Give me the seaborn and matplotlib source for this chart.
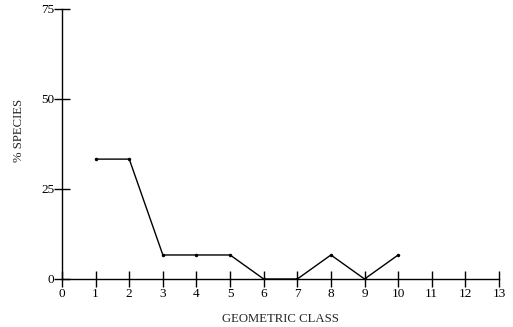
import matplotlib
matplotlib.use("Agg")
import matplotlib.pyplot as plt
import seaborn as sns
import pandas as pd

classes = [1, 2, 3, 4, 5, 6, 7, 8, 9, 10]
pct_species = [33.3, 33.3, 6.67, 6.67, 6.67, 0, 0, 6.67, 0, 6.67]
x_ticks = list(range(0, 14))
y_ticks = [0, 25, 50, 75]

sns.set_style("white")
plt.rcParams['font.family'] = ['Liberation Serif', 'DejaVu Serif']

df = pd.DataFrame({"cls": classes, "pct": pct_species})

fig = plt.figure(figsize=(5.13, 3.27), dpi=100)
ax = fig.add_axes([0.1209, 0.1468, 0.8518, 0.8257])
sns.lineplot(data=df, x="cls", y="pct", ax=ax, color="black", linewidth=1.0,
             marker="o", markersize=2.5, markeredgewidth=0, markerfacecolor="black")

ax.set_xlim(0, 13)
ax.set_ylim(0, 75)
ax.set_xticks(x_ticks)
ax.set_yticks(y_ticks)
for s in ["top", "right"]:
    ax.spines[s].set_visible(False)
for s in ["left", "bottom"]:
    ax.spines[s].set_color("black")
    ax.spines[s].set_linewidth(1.0)
ax.tick_params(axis="both", direction="inout", length=11, width=1.0, colors="black",
               labelsize=9.5, bottom=True, left=True)
ax.tick_params(axis="x", pad=1)
ax.tick_params(axis="y", pad=0)
ax.set_xlabel("GEOMETRIC CLASS", fontsize=9.2, labelpad=9)
ax.set_ylabel("% SPECIES", fontsize=9.2)
ax.yaxis.set_label_coords(-0.0847, 0.552)
ax.grid(False)

fig.savefig("out.png", dpi=100)
